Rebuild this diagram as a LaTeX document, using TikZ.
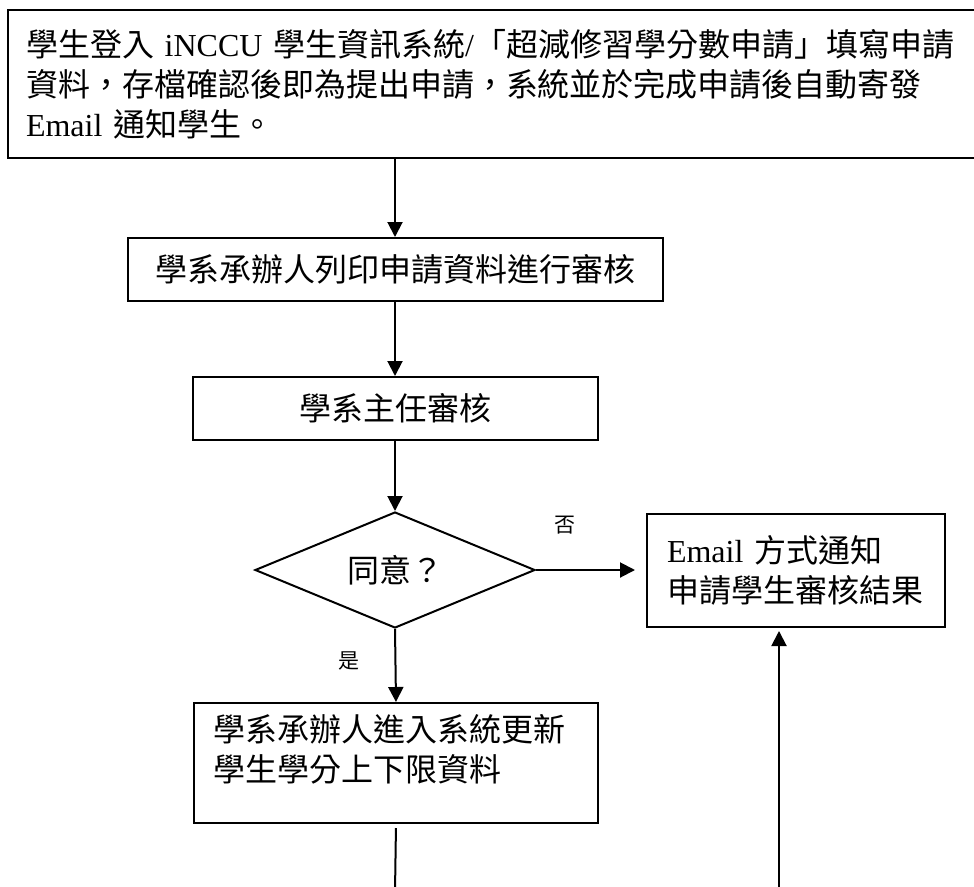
\documentclass[tikz,border=0pt]{standalone}
\usepackage{fontspec}
\setmainfont{Noto Sans CJK TC}
\newfontfamily\lat{Liberation Serif}
\usetikzlibrary{shapes.geometric,arrows.meta,calc}
\begin{document}
\begin{tikzpicture}[x=1pt,y=-1pt,
  box/.style={draw, line width=2pt, rectangle, inner sep=0pt, font=\fontsize{32}{40}\selectfont},
  txt/.style={inner sep=0pt, align=left, font=\fontsize{32}{40}\selectfont},
  arr/.style={line width=2pt, -{Triangle[width=15pt,length=15pt]}},
  conn/.style={line width=2pt},
  lbl/.style={inner sep=0pt, font=\fontsize{21}{24}\selectfont}]
\useasboundingbox (0,0) rectangle (974,886);

\node[box, anchor=north west, minimum height=148pt, inner xsep=18pt, text width=958pt, align=left] (top) at (7,9)
  {學生登入{\lat\ iNCCU\ }學生資訊系統{\lat /}「超減修習學分數申請」填寫申請\\資料，存檔確認後即為提出申請，系統並於完成申請後自動寄發\\{\lat Email\ }通知學生。};

\node[box, minimum width=535pt, minimum height=63pt] (b2) at (395,269.5) {學系承辦人列印申請資料進行審核};
\node[box, minimum width=405pt, minimum height=63pt] (b3) at (395,408.5) {學系主任審核};
\node[diamond, draw, line width=2pt, minimum width=280pt, minimum height=116pt, aspect=2.4, inner sep=0pt, font=\fontsize{32}{40}\selectfont] (d) at (395,570) {同意？};
\node[box, anchor=north west, minimum width=298pt, minimum height=113pt, inner xsep=20pt, text width=258pt, align=left] (em) at (646,513)
  {{\lat Email\ }方式通知\\申請學生審核結果};
\node[box, anchor=north west, minimum width=404pt, minimum height=120pt] (b5) at (193,702) {};
\node[txt, anchor=north west] (b5t) at (213,714) {學系承辦人進入系統更新\\學生學分上下限資料};

\node[lbl] (no) at (565,525) {否};
\node[lbl] (yes) at (349,661) {是};

\coordinate (e1) at (395,892);
\coordinate (e2) at (779,892);

\draw[arr] (top.south -| b2.north) -- (b2.north);
\draw[arr] (b2.south) -- (b3.north);
\draw[arr] (b3.south) -- (d.north);
\draw[arr, shorten >=11pt] (d.east) -- (d.east -| em.west);
\draw[arr] (d.south) -- (b5.north);
\draw[conn, shorten <=4pt] (b5.south) -- (e1);
\draw[arr, shorten >=3pt] (e2) -- (e2 |- em.south);
\end{tikzpicture}
\end{document}
